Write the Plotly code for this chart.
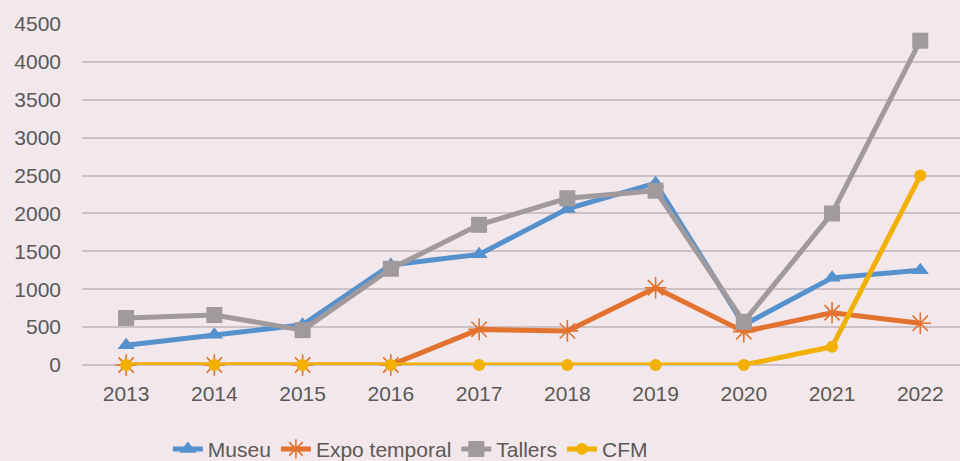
import plotly.graph_objects as go

years = ["2013", "2014", "2015", "2016", "2017", "2018", "2019", "2020", "2021", "2022"]
museu = [260, 400, 530, 1320, 1460, 2060, 2400, 530, 1150, 1250]
expo_temporal = [0, 0, 0, 0, 470, 450, 1020, 440, 690, 550]
tallers = [620, 660, 460, 1270, 1850, 2200, 2300, 570, 2000, 4280]
cfm = [0, 0, 0, 0, 0, 0, 0, 0, 240, 2500]
y_ticks = [0, 500, 1000, 1500, 2000, 2500, 3000, 3500, 4000, 4500]

FONT = "Liberation Sans, Arial, sans-serif"
BG = "#F2E7EB"

fig = go.Figure()
fig.add_trace(go.Scatter(x=years, y=museu, name="Museu", mode="lines+markers",
                         line=dict(color="#5591CD", width=5),
                         marker=dict(symbol="triangle-up", size=15, color="#5591CD"),
                         cliponaxis=False))
fig.add_trace(go.Scatter(x=years, y=expo_temporal, name="Expo temporal", mode="lines+markers",
                         line=dict(color="#E3722E", width=5),
                         marker=dict(symbol="asterisk-open", size=18,
                                     line=dict(color="#E3722E", width=1.6)),
                         cliponaxis=False))
fig.add_trace(go.Scatter(x=years, y=tallers, name="Tallers", mode="lines+markers",
                         line=dict(color="#A09A9C", width=5),
                         marker=dict(symbol="square", size=16, color="#A09A9C"),
                         cliponaxis=False))
fig.add_trace(go.Scatter(x=years, y=cfm, name="CFM", mode="lines+markers",
                         line=dict(color="#F2B100", width=5),
                         marker=dict(symbol="circle", size=12, color="#F2B100"),
                         cliponaxis=False))

fig.update_layout(
    width=960, height=461,
    paper_bgcolor=BG, plot_bgcolor=BG,
    margin=dict(l=82, r=0, t=24, b=96, autoexpand=False),
    font=dict(family=FONT, size=21, color="#595959"),
    showlegend=True,
    legend=dict(orientation="h", x=0.374, xanchor="center", y=-0.247, yanchor="middle",
                font=dict(family=FONT, size=21, color="#595959"),
                bgcolor="rgba(0,0,0,0)", traceorder="normal"),
)
fig.update_xaxes(type="category", range=[-0.5, 9.45], showgrid=False, zeroline=False,
                 showline=False, ticks="", ticklabelstandoff=14,
                 tickfont=dict(family=FONT, size=21, color="#595959"))
fig.update_yaxes(range=[0, 4500], tickvals=y_ticks, showgrid=True, gridcolor="#CBC1C6",
                 gridwidth=1.5, zeroline=True, zerolinecolor="#CBC1C6", zerolinewidth=1.5,
                 showline=False, ticks="", ticklabelstandoff=20,
                 tickfont=dict(family=FONT, size=21, color="#595959"))

fig.write_html("out.html", config={"displayModeBar": False},
               post_script="document.body.style.margin='0';")
